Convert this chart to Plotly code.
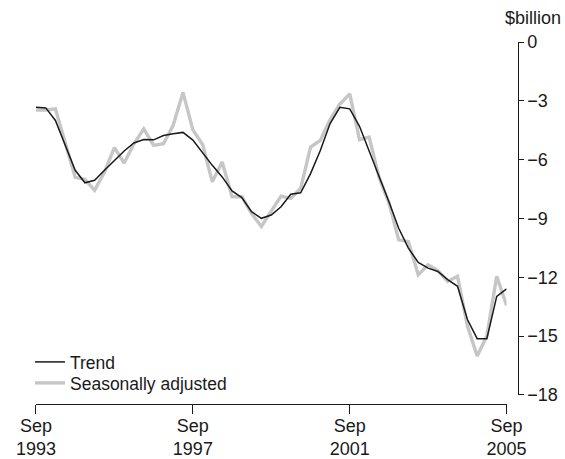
import plotly.graph_objects as go
import pandas as pd

quarters = [d.strftime("%Y-%m-%d") for d in pd.date_range("1993-09-01", periods=49, freq="QS-MAR")]

trend = [-3.33, -3.36, -4.0, -5.27, -6.54, -7.18, -7.05, -6.54, -6.03, -5.56,
         -5.15, -4.97, -4.99, -4.77, -4.68, -4.61, -5.0, -5.65, -6.29, -6.88,
         -7.59, -7.93, -8.65, -8.99, -8.82, -8.40, -7.76, -7.69, -6.71, -5.53,
         -4.17, -3.33, -3.41, -4.30, -5.53, -6.88, -8.15, -9.50, -10.51, -11.24,
         -11.53, -11.70, -12.12, -12.46, -14.15, -15.13, -15.13, -12.97, -12.59]

seas_adj = [-3.47, -3.47, -3.41, -5.2, -6.9, -7.0, -7.56, -6.63, -5.39, -6.17,
            -5.19, -4.43, -5.27, -5.19, -4.26, -2.57, -4.48, -5.23, -7.13, -6.12,
            -7.89, -7.89, -8.74, -9.41, -8.65, -7.86, -7.98, -7.47, -5.36, -5.02,
            -3.97, -3.16, -2.65, -4.98, -4.85, -6.9, -8.2, -10.09, -10.18, -11.87,
            -11.36, -11.65, -12.21, -11.95, -14.49, -16.01, -14.99, -11.95, -13.44]

x_tickvals = ["1993-09-01", "1997-09-01", "2001-09-01", "2005-09-01"]
x_ticktext = ["Sep<br>1993", "Sep<br>1997", "Sep<br>2001", "Sep<br>2005"]
y_tickvals = [0, -3, -6, -9, -12, -15, -18]

FONT = "Liberation Sans, Arial, sans-serif"
INK = "#1a1a1a"

fig = go.Figure()
fig.add_trace(go.Scatter(x=quarters, y=seas_adj, mode="lines", name="Seasonally adjusted",
                         line=dict(color="#c6c6c6", width=3.4), legend="legend2"))
fig.add_trace(go.Scatter(x=quarters, y=trend, mode="lines", name="Trend",
                         line=dict(color=INK, width=1.5), legend="legend"))

legend_common = dict(xanchor="left", yanchor="top", font=dict(size=17.5),
                     bgcolor="rgba(0,0,0,0)")

fig.update_layout(
    width=565, height=459,
    margin=dict(l=10, r=10, t=42, b=55, autoexpand=False),
    paper_bgcolor="white", plot_bgcolor="white",
    font=dict(family=FONT, size=18, color=INK),
    showlegend=True,
    legend=dict(x=0.0367, y=0.1657, **legend_common),
    legend2=dict(x=0.0367, y=0.1077, **legend_common),
    xaxis=dict(
        domain=[0.0477, 0.9112], anchor="free", position=0, automargin=False,
        range=["1993-09-01", "2005-09-01"],
        tickmode="array", tickvals=x_tickvals, ticktext=x_ticktext,
        ticks="outside", ticklen=9, tickwidth=1.4, tickcolor=INK,
        ticklabelstandoff=-4,
        showline=True, linecolor=INK, linewidth=1.4,
        showgrid=False, zeroline=False, tickfont=dict(size=18),
    ),
    yaxis=dict(
        domain=[0.0249, 1], anchor="free", position=0.9312, side="right", automargin=False,
        range=[-18, 0],
        tickmode="array", tickvals=y_tickvals,
        ticks="outside", ticklen=5, tickwidth=1.4, tickcolor=INK,
        showline=True, linecolor=INK, linewidth=1.4,
        showgrid=False, zeroline=False, tickfont=dict(size=18),
    ),
    annotations=[dict(text="$billion", xref="paper", yref="paper",
                      x=0.9596, y=1.066, xanchor="center", yanchor="middle",
                      showarrow=False, font=dict(size=18))],
)

fig.write_html("out.html", config={"displayModeBar": False},
               post_script="document.body.style.margin='0';document.body.style.overflow='hidden';")
